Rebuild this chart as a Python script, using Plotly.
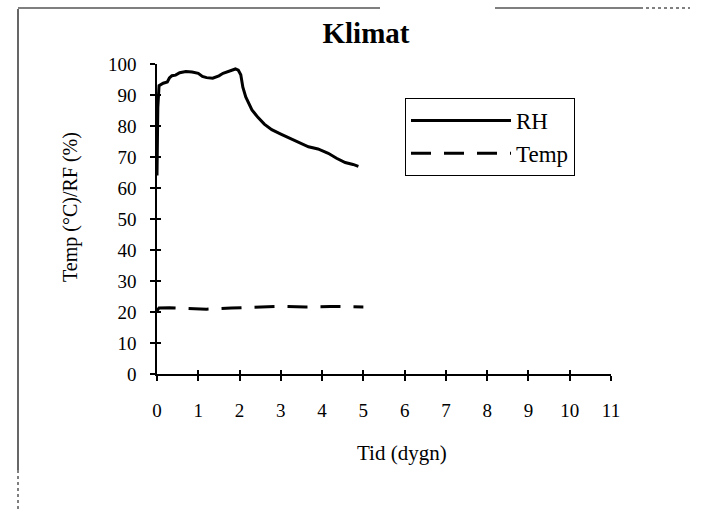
import plotly.graph_objects as go

# ---- data ----
rh_days = [0.0, 0.02, 0.05, 0.15, 0.25, 0.3, 0.36, 0.45, 0.55, 0.7, 0.85, 1.0,
           1.1, 1.2, 1.35, 1.5, 1.6, 1.7, 1.8, 1.9, 1.97, 2.03, 2.08, 2.15,
           2.3, 2.45, 2.6, 2.78, 3.0, 3.2, 3.45, 3.67, 3.9, 4.15, 4.35, 4.56,
           4.75, 4.88]
rh_values = [64, 86, 93, 93.8, 94.2, 95.5, 96.2, 96.4, 97.2, 97.6, 97.4, 97.0,
             96.0, 95.6, 95.4, 96.2, 97.0, 97.4, 97.8, 98.4, 98.0, 96.5, 92.5,
             89.4, 85.2, 82.7, 80.6, 78.8, 77.4, 76.2, 74.8, 73.3, 72.6, 71.2,
             69.6, 68.2, 67.6, 67.0]
temp_days = [0.0, 0.05, 0.3, 0.8, 1.2, 1.8, 2.5, 3.0, 3.6, 4.2, 5.0]
temp_values = [20.4, 21.3, 21.4, 21.1, 20.9, 21.3, 21.7, 21.8, 21.6, 21.8, 21.6]
x_ticks = list(range(0, 12))
y_ticks = list(range(0, 101, 10))

W, H = 713, 511
L, R, T, B = 157, 102, 64, 137
PW, PH = W - L - R, H - T - B


def px(x):
    return (x - L) / PW


def py(y):
    return (H - B - y) / PH


serif = "Liberation Serif, Times New Roman, serif"

fig = go.Figure()
fig.add_trace(go.Scatter(x=rh_days, y=rh_values, mode="lines", name="RH",
                         line=dict(color="black", width=3)))
fig.add_trace(go.Scatter(x=temp_days, y=temp_values, mode="lines", name="Temp",
                         line=dict(color="black", width=3, dash="20px,13px")))
# invisible trace so the overlay axes (inner half of the crossing ticks) are drawn
fig.add_trace(go.Scatter(x=[None], y=[None], xaxis="x2", yaxis="y2",
                         showlegend=False, hoverinfo="skip"))

axis_common = dict(showgrid=False, zeroline=False, showline=True,
                   linecolor="black", linewidth=1.5, ticks="outside",
                   ticklen=5, tickcolor="black", tickwidth=1.5,
                   tickfont=dict(family=serif, size=19, color="black"))
overlay_common = dict(showticklabels=False, showline=False, showgrid=False,
                      zeroline=False, ticks="inside", ticklen=4,
                      tickcolor="black", tickwidth=1.5)

fig.update_layout(
    width=W, height=H,
    margin=dict(l=L, r=R, t=T, b=B, pad=0),
    paper_bgcolor="white", plot_bgcolor="white",
    showlegend=True,
    xaxis=dict(range=[0, 11], tickvals=x_ticks, ticklabelstandoff=13, **axis_common),
    yaxis=dict(range=[0, 100], tickvals=y_ticks, ticklabelstandoff=10, **axis_common),
    xaxis2=dict(range=[0, 11], tickvals=x_ticks, overlaying="x", anchor="y2",
                side="bottom", **overlay_common),
    yaxis2=dict(range=[0, 100], tickvals=y_ticks, overlaying="y", anchor="x2",
                side="left", **overlay_common),
    title=dict(text="<b>Klimat</b>", x=366 / W, xref="container", xanchor="center",
               y=1 - 33 / H, yref="container", yanchor="middle",
               font=dict(family=serif, size=29, color="black")),
    legend=dict(x=px(405), y=py(98), xanchor="left", yanchor="top",
                bordercolor="black", borderwidth=1, bgcolor="white",
                itemwidth=100,
                font=dict(family=serif, size=23, color="black")),
    annotations=[
        dict(text="Temp (°C)/RF (%)", textangle=-90, x=px(70), y=py(207),
             xref="paper", yref="paper", showarrow=False, xanchor="center",
             yanchor="middle", font=dict(family=serif, size=20, color="black")),
        dict(text="Tid (dygn)", x=px(402), y=py(453), xref="paper", yref="paper",
             showarrow=False, xanchor="center", yanchor="middle",
             font=dict(family=serif, size=21, color="black")),
    ],
    shapes=[
        dict(type="line", xref="paper", yref="paper", x0=px(18), x1=px(18),
             y0=py(9), y1=py(470), line=dict(color="black", width=1.2)),
        dict(type="line", xref="paper", yref="paper", x0=px(18), x1=px(18),
             y0=py(470), y1=py(511), line=dict(color="black", width=1, dash="dot")),
        dict(type="line", xref="paper", yref="paper", x0=px(18), x1=px(380),
             y0=py(8), y1=py(8), line=dict(color="black", width=1.2)),
        dict(type="line", xref="paper", yref="paper", x0=px(495), x1=px(640),
             y0=py(8), y1=py(8), line=dict(color="black", width=1.2)),
        dict(type="line", xref="paper", yref="paper", x0=px(640), x1=px(690),
             y0=py(8), y1=py(8), line=dict(color="black", width=1, dash="dot")),
    ],
)

fig.write_html("out.html")
